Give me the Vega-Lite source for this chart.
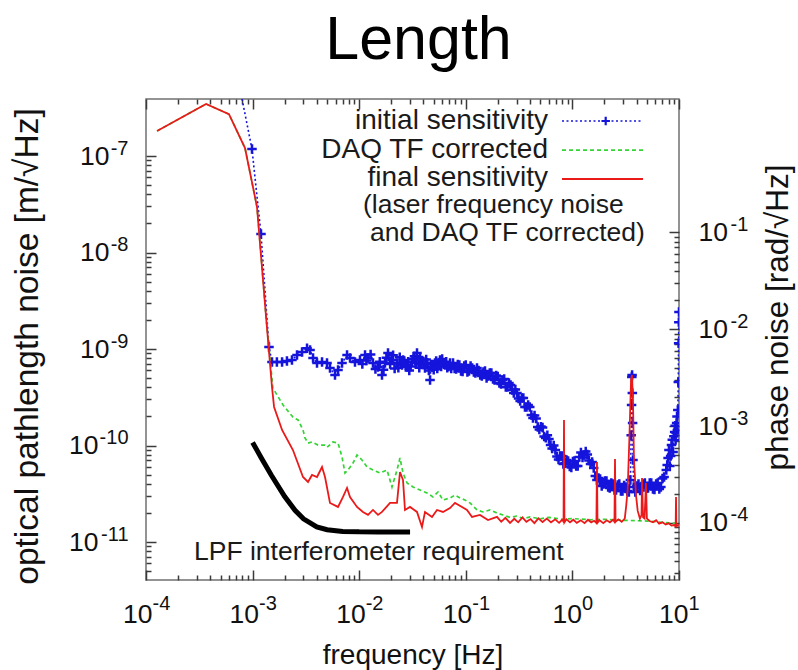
{
  "$schema": "https://vega.github.io/schema/vega-lite/v6.json",
  "width": 533,
  "height": 481,
  "autosize": "none",
  "padding": {"left": 146, "top": 99, "right": 119, "bottom": 90},
  "background": "white",
  "config": {
    "view": {"stroke": "#707070", "strokeWidth": 1.5},
    "font": "Liberation Sans"
  },
  "title": {
    "text": "Length",
    "font": "Liberation Sans",
    "fontSize": 61,
    "fontWeight": "normal",
    "color": "#000000",
    "baseline": "alphabetic",
    "offset": -24,
    "dx": 6
  },
  "datasets": {
    "initial": [
      {"f": 7.96e-4, "v": 3.9e-7}, {"f": 9.87e-4, "v": 1.18e-7},
      {"f": 1.199e-3, "v": 1.555e-8}, {"f": 1.425e-3, "v": 1.05e-9}, {"f": 1.52e-3, "v": 7.33e-10},
      {"f": 1.69e-3, "v": 7.33e-10}, {"f": 1.89e-3, "v": 7.33e-10}, {"f": 2.10e-3, "v": 7.51e-10},
      {"f": 2.34e-3, "v": 7.69e-10}, {"f": 2.61e-3, "v": 8.66e-10}, {"f": 2.91e-3, "v": 9.31e-10},
      {"f": 3.24e-3, "v": 1.02e-9}, {"f": 3.46e-3, "v": 9.76e-10}, {"f": 3.69e-3, "v": 8.06e-10},
      {"f": 4.02e-3, "v": 7.16e-10}, {"f": 4.48e-3, "v": 7.33e-10}, {"f": 4.99e-3, "v": 7.16e-10},
      {"f": 5.32e-3, "v": 6.35e-10}, {"f": 5.93e-3, "v": 5.38e-10}, {"f": 6.33e-3, "v": 6.06e-10},
      {"f": 6.90e-3, "v": 7.16e-10}, {"f": 7.69e-3, "v": 8.66e-10}, {"f": 8.20e-3, "v": 8.06e-10},
      {"f": 9.13e-3, "v": 7.33e-10}, {"f": 1.017e-2, "v": 7.69e-10}, {"f": 1.07e-2, "v": 7.0e-10},
      {"f": 1.134e-2, "v": 8.66e-10}, {"f": 1.17e-2, "v": 7.6e-10}, {"f": 1.209e-2, "v": 8.06e-10},
      {"f": 1.28e-2, "v": 8.8e-10}, {"f": 1.347e-2, "v": 7.16e-10}, {"f": 1.42e-2, "v": 6.2e-10},
      {"f": 1.501e-2, "v": 6.51e-10}, {"f": 1.56e-2, "v": 7.4e-10}, {"f": 1.636e-2, "v": 5.38e-10},
      {"f": 1.69e-2, "v": 6.1e-10}, {"f": 1.746e-2, "v": 7.16e-10}, {"f": 1.80e-2, "v": 8.1e-10},
      {"f": 1.863e-2, "v": 9.09e-10}, {"f": 1.95e-2, "v": 7.0e-10}, {"f": 2.03e-2, "v": 7.69e-10},
      {"f": 2.08e-2, "v": 8.6e-10}, {"f": 2.15e-2, "v": 6.3e-10}, {"f": 2.262e-2, "v": 7.16e-10},
      {"f": 2.33e-2, "v": 6.4e-10}, {"f": 2.4e-2, "v": 8.2e-10}, {"f": 2.46e-2, "v": 7.2e-10},
      {"f": 2.52e-2, "v": 6.82e-10}, {"f": 2.58e-2, "v": 7.7e-10}, {"f": 2.65e-2, "v": 7.5e-10},
      {"f": 2.73e-2, "v": 6.8e-10}, {"f": 2.81e-2, "v": 6.51e-10}, {"f": 2.88e-2, "v": 7.4e-10},
      {"f": 2.95e-2, "v": 6.0e-10}, {"f": 3.04e-2, "v": 6.6e-10}, {"f": 3.13e-2, "v": 7.33e-10},
      {"f": 3.21e-2, "v": 7.9e-10}, {"f": 3.3e-2, "v": 8.4e-10}, {"f": 3.4e-2, "v": 7.2e-10},
      {"f": 3.485e-2, "v": 9.09e-10}, {"f": 3.6e-2, "v": 7.0e-10}, {"f": 3.66e-2, "v": 6.4e-10},
      {"f": 3.72e-2, "v": 8.06e-10}, {"f": 3.81e-2, "v": 7.0e-10}, {"f": 3.9e-2, "v": 7.6e-10},
      {"f": 4.0e-2, "v": 6.9e-10}, {"f": 4.142e-2, "v": 6.35e-10}, {"f": 4.25e-2, "v": 7.8e-10},
      {"f": 4.35e-2, "v": 7.2e-10}, {"f": 4.5e-2, "v": 6.0e-10}, {"f": 4.62e-2, "v": 4.77e-10},
      {"f": 4.73e-2, "v": 6.9e-10}, {"f": 4.85e-2, "v": 6.5e-10}, {"f": 5.0e-2, "v": 6.1e-10},
      {"f": 5.14e-2, "v": 7.16e-10}, {"f": 5.27e-2, "v": 7.5e-10}, {"f": 5.4e-2, "v": 6.3e-10},
      {"f": 5.57e-2, "v": 6.7e-10}, {"f": 5.73e-2, "v": 7.69e-10}, {"f": 5.87e-2, "v": 6.6e-10},
      {"f": 6.0e-2, "v": 7.9e-10}, {"f": 6.18e-2, "v": 7.2e-10}, {"f": 6.38e-2, "v": 6.82e-10},
      {"f": 6.55e-2, "v": 7.4e-10}, {"f": 6.7e-2, "v": 6.4e-10}, {"f": 6.9e-2, "v": 6.6e-10},
      {"f": 7.11e-2, "v": 7.16e-10}, {"f": 7.3e-2, "v": 6.3e-10},
      {"f": 0.0759, "v": 7.16e-10}, {"f": 0.0785, "v": 6.28e-10}, {"f": 0.0813, "v": 6.20e-10},
      {"f": 0.0841, "v": 6.91e-10}, {"f": 0.0871, "v": 6.83e-10}, {"f": 0.0901, "v": 5.92e-10},
      {"f": 0.0933, "v": 5.85e-10}, {"f": 0.0966, "v": 6.66e-10}, {"f": 0.1, "v": 6.83e-10},
      {"f": 0.1035, "v": 5.78e-10}, {"f": 0.1072, "v": 5.92e-10}, {"f": 0.1109, "v": 6.66e-10},
      {"f": 0.1148, "v": 6.35e-10}, {"f": 0.1189, "v": 5.78e-10}, {"f": 0.1230, "v": 5.64e-10},
      {"f": 0.1274, "v": 6.35e-10}, {"f": 0.1318, "v": 5.99e-10}, {"f": 0.1365, "v": 5.38e-10},
      {"f": 0.1413, "v": 5.25e-10}, {"f": 0.1462, "v": 5.78e-10}, {"f": 0.1514, "v": 5.92e-10},
      {"f": 0.1567, "v": 5.01e-10}, {"f": 0.1622, "v": 5.25e-10}, {"f": 0.1679, "v": 5.64e-10},
      {"f": 0.1738, "v": 5.64e-10}, {"f": 0.1799, "v": 4.89e-10}, {"f": 0.1862, "v": 4.77e-10},
      {"f": 0.1928, "v": 5.31e-10}, {"f": 0.1995, "v": 5.19e-10}, {"f": 0.2065, "v": 4.44e-10},
      {"f": 0.2138, "v": 4.34e-10}, {"f": 0.2213, "v": 4.77e-10}, {"f": 0.2291, "v": 4.89e-10},
      {"f": 0.2371, "v": 4.04e-10}, {"f": 0.2455, "v": 4.04e-10}, {"f": 0.2541, "v": 4.44e-10},
      {"f": 0.2630, "v": 4.24e-10}, {"f": 0.2723, "v": 3.76e-10}, {"f": 0.2818, "v": 3.50e-10},
      {"f": 0.2917, "v": 3.80e-10}, {"f": 0.3020, "v": 3.50e-10}, {"f": 0.3126, "v": 3.07e-10},
      {"f": 0.3236, "v": 2.89e-10}, {"f": 0.3350, "v": 3.11e-10}, {"f": 0.3467, "v": 3.11e-10},
      {"f": 0.3589, "v": 2.51e-10}, {"f": 0.3715, "v": 2.51e-10}, {"f": 0.3846, "v": 2.63e-10},
      {"f": 0.3981, "v": 2.51e-10}, {"f": 0.4121, "v": 2.07e-10}, {"f": 0.4266, "v": 1.93e-10},
      {"f": 0.4416, "v": 2.05e-10}, {"f": 0.4571, "v": 1.90e-10}, {"f": 0.4732, "v": 1.555e-10},
      {"f": 0.4898, "v": 1.465e-10}, {"f": 0.5070, "v": 1.57e-10}, {"f": 0.5248, "v": 1.535e-10},
      {"f": 0.5433, "v": 1.24e-10}, {"f": 0.5623, "v": 1.20e-10}, {"f": 0.5821, "v": 1.28e-10},
      {"f": 0.6026, "v": 1.17e-10}, {"f": 0.6237, "v": 1.012e-10}, {"f": 0.6457, "v": 9.31e-11},
      {"f": 0.6683, "v": 1.0e-10}, {"f": 0.6918, "v": 8.98e-11}, {"f": 0.7161, "v": 7.69e-11},
      {"f": 0.7413, "v": 7.17e-11}, {"f": 0.7674, "v": 7.78e-11}, {"f": 0.7943, "v": 7.78e-11},
      {"f": 0.8222, "v": 6.43e-11}, {"f": 0.8511, "v": 6.59e-11}, {"f": 0.8810, "v": 7.08e-11},
      {"f": 0.9120, "v": 6.91e-11}, {"f": 0.9441, "v": 6.06e-11}, {"f": 0.9772, "v": 5.92e-11},
      {"f": 1.0116, "v": 6.83e-11}, {"f": 1.0471, "v": 6.91e-11}, {"f": 1.0839, "v": 6.13e-11},
      {"f": 1.1220, "v": 6.13e-11}, {"f": 1.1614, "v": 7.60e-11}, {"f": 1.2023, "v": 8.46e-11},
      {"f": 1.2445, "v": 7.51e-11}, {"f": 1.2882, "v": 7.97e-11}, {"f": 1.3335, "v": 8.66e-11},
      {"f": 1.3804, "v": 8.06e-11}, {"f": 1.4289, "v": 7.0e-11}, {"f": 1.4791, "v": 6.43e-11},
      {"f": 1.5311, "v": 6.75e-11}, {"f": 1.5849, "v": 5.85e-11}, {"f": 1.6406, "v": 4.83e-11},
      {"f": 1.6982, "v": 4.39e-11}, {"f": 1.7579, "v": 4.60e-11}, {"f": 1.8197, "v": 4.50e-11},
      {"f": 1.8836, "v": 3.81e-11}, {"f": 1.9498, "v": 3.99e-11}, {"f": 2.0184, "v": 4.29e-11},
      {"f": 2.0893, "v": 4.29e-11}, {"f": 2.1627, "v": 3.72e-11}, {"f": 2.2387, "v": 3.63e-11},
      {"f": 2.3174, "v": 4.09e-11}, {"f": 2.3988, "v": 3.99e-11}, {"f": 2.4831, "v": 3.46e-11},
      {"f": 2.5704, "v": 3.46e-11}, {"f": 2.6607, "v": 3.90e-11}, {"f": 2.7542, "v": 3.99e-11},
      {"f": 2.8510, "v": 3.38e-11}, {"f": 2.9512, "v": 3.38e-11}, {"f": 3.0549, "v": 3.85e-11},
      {"f": 3.1623, "v": 3.72e-11}, {"f": 3.2734, "v": 3.38e-11}, {"f": 3.3884, "v": 3.30e-11},
      {"f": 3.50, "v": 4.39e-11}, {"f": 3.56, "v": 1.28e-10}, {"f": 3.59, "v": 2.63e-10},
      {"f": 3.61, "v": 5.13e-10}, {"f": 3.63, "v": 5.38e-10}, {"f": 3.65, "v": 3.50e-10},
      {"f": 3.67, "v": 1.71e-10}, {"f": 3.70, "v": 7.08e-11}, {"f": 3.76, "v": 3.72e-11},
      {"f": 3.8905, "v": 3.30e-11}, {"f": 4.0304, "v": 3.81e-11}, {"f": 4.1687, "v": 3.99e-11},
      {"f": 4.3186, "v": 3.42e-11}, {"f": 4.4668, "v": 3.63e-11}, {"f": 4.6275, "v": 3.99e-11},
      {"f": 4.7863, "v": 4.09e-11}, {"f": 4.9585, "v": 3.63e-11}, {"f": 5.1286, "v": 3.63e-11},
      {"f": 5.3131, "v": 4.09e-11}, {"f": 5.4954, "v": 4.09e-11}, {"f": 5.6931, "v": 3.54e-11},
      {"f": 5.8884, "v": 3.50e-11}, {"f": 6.1003, "v": 3.99e-11}, {"f": 6.3096, "v": 4.09e-11},
      {"f": 6.5366, "v": 3.54e-11}, {"f": 6.7608, "v": 3.72e-11}, {"f": 7.0041, "v": 4.55e-11},
      {"f": 7.2444, "v": 4.72e-11}, {"f": 7.6, "v": 5.57e-11}, {"f": 7.75, "v": 6.3e-11},
      {"f": 7.9, "v": 7.42e-11}, {"f": 8.05, "v": 9.0e-11}, {"f": 8.2, "v": 6.13e-11},
      {"f": 8.35, "v": 7.8e-11}, {"f": 8.5, "v": 1.01e-10}, {"f": 8.65, "v": 1.15e-10},
      {"f": 8.8, "v": 8.56e-11}, {"f": 8.95, "v": 1.25e-10}, {"f": 9.1, "v": 1.38e-10},
      {"f": 9.2, "v": 1.6e-10}, {"f": 9.3, "v": 1.14e-10}, {"f": 9.4, "v": 1.35e-10},
      {"f": 9.5, "v": 1.71e-10}, {"f": 9.58, "v": 2.0e-10}, {"f": 9.65, "v": 1.45e-10},
      {"f": 9.75, "v": 2.33e-10}, {"f": 9.85, "v": 4.55e-10}, {"f": 9.92, "v": 1.15e-9},
      {"f": 9.96, "v": 1.9e-9}, {"f": 9.99, "v": 2.42e-9}
    ],
    "daq": [
      {"f": 1.27e-4, "v": 1.82e-7}, {"f": 3.66e-4, "v": 3.46e-7}, {"f": 6.0e-4, "v": 2.72e-7},
      {"f": 8.49e-4, "v": 1.21e-7}, {"f": 1.10e-3, "v": 2.96e-8}, {"f": 1.34e-3, "v": 2.1e-9},
      {"f": 1.55e-3, "v": 3.94e-10}, {"f": 1.93e-3, "v": 2.63e-10}, {"f": 2.39e-3, "v": 1.97e-10},
      {"f": 2.67e-3, "v": 1.84e-10}, {"f": 2.97e-3, "v": 1.45e-10}, {"f": 3.10e-3, "v": 1.20e-10},
      {"f": 3.31e-3, "v": 1.06e-10}, {"f": 3.61e-3, "v": 1.09e-10}, {"f": 4.11e-3, "v": 1.01e-10},
      {"f": 4.78e-3, "v": 1.01e-10}, {"f": 5.0e-3, "v": 9.6e-11}, {"f": 5.68e-3, "v": 1.09e-10},
      {"f": 6.33e-3, "v": 1.06e-10}, {"f": 6.90e-3, "v": 7.6e-11}, {"f": 7.36e-3, "v": 5.19e-11},
      {"f": 7.85e-3, "v": 5.57e-11}, {"f": 8.75e-3, "v": 6.59e-11}, {"f": 9.54e-3, "v": 7.97e-11},
      {"f": 1.062e-2, "v": 7.08e-11}, {"f": 1.184e-2, "v": 5.99e-11}, {"f": 1.347e-2, "v": 5.57e-11},
      {"f": 1.567e-2, "v": 5.19e-11}, {"f": 1.823e-2, "v": 5.57e-11}, {"f": 2.03e-2, "v": 3.72e-11},
      {"f": 2.262e-2, "v": 5.57e-11}, {"f": 2.413e-2, "v": 7.42e-11}, {"f": 2.576e-2, "v": 5.19e-11},
      {"f": 2.81e-2, "v": 4.09e-11}, {"f": 3.20e-2, "v": 3.72e-11}, {"f": 3.72e-2, "v": 3.46e-11},
      {"f": 4.33e-2, "v": 3.22e-11}, {"f": 4.92e-2, "v": 2.93e-11}, {"f": 5.49e-2, "v": 3.30e-11},
      {"f": 6.11e-2, "v": 2.72e-11}, {"f": 7.11e-2, "v": 2.86e-11}, {"f": 7.92e-2, "v": 3.07e-11},
      {"f": 8.82e-2, "v": 2.86e-11}, {"f": 9.83e-2, "v": 2.72e-11}, {"f": 0.1095, "v": 2.54e-11},
      {"f": 0.1274, "v": 2.15e-11}, {"f": 0.145, "v": 2.05e-11}, {"f": 0.1687, "v": 2.15e-11},
      {"f": 0.1962, "v": 2.0e-11}, {"f": 0.2234, "v": 1.905e-11}, {"f": 0.26, "v": 1.8e-11},
      {"f": 0.3, "v": 1.85e-11}, {"f": 0.35, "v": 1.75e-11}, {"f": 0.4, "v": 1.82e-11},
      {"f": 0.5, "v": 1.74e-11}, {"f": 0.6, "v": 1.8e-11}, {"f": 0.8, "v": 1.72e-11},
      {"f": 1.0, "v": 1.75e-11}, {"f": 1.5, "v": 1.7e-11}, {"f": 2.0, "v": 1.72e-11},
      {"f": 3.0, "v": 1.68e-11}, {"f": 5.0, "v": 1.65e-11}, {"f": 7.0, "v": 1.6e-11},
      {"f": 10, "v": 1.55e-11}
    ],
    "final": [
      {"f": 1.27e-4, "v": 1.82e-7}, {"f": 3.66e-4, "v": 3.46e-7}, {"f": 6.0e-4, "v": 2.72e-7},
      {"f": 8.49e-4, "v": 1.21e-7}, {"f": 1.10e-3, "v": 2.96e-8}, {"f": 1.34e-3, "v": 2.1e-9},
      {"f": 1.52e-3, "v": 4.04e-10}, {"f": 1.59e-3, "v": 2.51e-10}, {"f": 1.89e-3, "v": 1.45e-10},
      {"f": 2.39e-3, "v": 8.98e-11}, {"f": 2.97e-3, "v": 4.72e-11}, {"f": 3.31e-3, "v": 4.19e-11},
      {"f": 3.61e-3, "v": 4.95e-11}, {"f": 4.02e-3, "v": 4.72e-11}, {"f": 4.48e-3, "v": 5.99e-11},
      {"f": 4.78e-3, "v": 4.72e-11}, {"f": 5.32e-3, "v": 2.54e-11}, {"f": 6.33e-3, "v": 2.31e-11},
      {"f": 7.05e-3, "v": 2.93e-11}, {"f": 7.69e-3, "v": 3.63e-11}, {"f": 8.20e-3, "v": 2.93e-11},
      {"f": 9.54e-3, "v": 2.31e-11}, {"f": 1.085e-2, "v": 2.05e-11}, {"f": 1.209e-2, "v": 1.91e-11},
      {"f": 1.347e-2, "v": 2.15e-11}, {"f": 1.501e-2, "v": 1.91e-11}, {"f": 1.636e-2, "v": 2.05e-11},
      {"f": 1.945e-2, "v": 2.54e-11}, {"f": 2.262e-2, "v": 2.54e-11}, {"f": 2.413e-2, "v": 5.31e-11},
      {"f": 2.576e-2, "v": 4.39e-11}, {"f": 2.689e-2, "v": 2.15e-11}, {"f": 2.996e-2, "v": 2.31e-11},
      {"f": 3.485e-2, "v": 2.05e-11}, {"f": 3.883e-2, "v": 1.43e-11}, {"f": 4.142e-2, "v": 2.05e-11},
      {"f": 4.819e-2, "v": 1.82e-11}, {"f": 5.369e-2, "v": 2.15e-11}, {"f": 6.112e-2, "v": 2.05e-11},
      {"f": 7.108e-2, "v": 2.25e-11}, {"f": 7.918e-2, "v": 2.54e-11}, {"f": 9.213e-2, "v": 2.31e-11},
      {"f": 0.1026, "v": 2.15e-11}, {"f": 0.1144, "v": 1.82e-11}, {"f": 0.1359, "v": 1.91e-11},
      {"f": 0.1616, "v": 1.69e-11}, {"f": 0.1962, "v": 1.82e-11}, {"f": 0.215, "v": 1.62e-11},
      {"f": 0.235, "v": 1.78e-11}, {"f": 0.26, "v": 1.58e-11}, {"f": 0.285, "v": 1.74e-11},
      {"f": 0.31, "v": 1.6e-11}, {"f": 0.34, "v": 1.8e-11}, {"f": 0.37, "v": 1.62e-11},
      {"f": 0.405, "v": 1.73e-11}, {"f": 0.44, "v": 1.57e-11}, {"f": 0.48, "v": 1.76e-11},
      {"f": 0.525, "v": 1.61e-11}, {"f": 0.575, "v": 1.75e-11}, {"f": 0.63, "v": 1.6e-11},
      {"f": 0.69, "v": 1.72e-11}, {"f": 0.75, "v": 1.58e-11}, {"f": 0.80, "v": 1.7e-11},
      {"f": 0.826, "v": 1.62e-11}, {"f": 0.834, "v": 1.84e-10}, {"f": 0.842, "v": 1.6e-11},
      {"f": 0.88, "v": 1.72e-11}, {"f": 0.95, "v": 1.6e-11}, {"f": 1.02, "v": 1.7e-11},
      {"f": 1.1, "v": 1.58e-11}, {"f": 1.2, "v": 1.68e-11}, {"f": 1.3, "v": 1.57e-11},
      {"f": 1.4, "v": 1.7e-11}, {"f": 1.5, "v": 1.6e-11}, {"f": 1.6, "v": 1.66e-11},
      {"f": 1.68, "v": 1.58e-11}, {"f": 1.70, "v": 6.75e-11}, {"f": 1.72, "v": 1.58e-11},
      {"f": 1.8, "v": 1.68e-11}, {"f": 1.95, "v": 1.57e-11}, {"f": 2.1, "v": 1.68e-11},
      {"f": 2.25, "v": 1.6e-11}, {"f": 2.4, "v": 1.7e-11}, {"f": 2.48, "v": 1.62e-11},
      {"f": 2.51, "v": 7.25e-11}, {"f": 2.54, "v": 1.62e-11}, {"f": 2.7, "v": 1.72e-11},
      {"f": 2.9, "v": 1.62e-11}, {"f": 3.1, "v": 1.75e-11}, {"f": 3.2, "v": 2.4e-11},
      {"f": 3.3, "v": 3.5e-11}, {"f": 3.42, "v": 1.14e-10}, {"f": 3.55, "v": 4.77e-10},
      {"f": 3.62, "v": 5.38e-10}, {"f": 3.70, "v": 2.96e-10}, {"f": 3.78, "v": 7.08e-11},
      {"f": 3.95, "v": 3.07e-11}, {"f": 4.1, "v": 2.1e-11}, {"f": 4.3, "v": 1.75e-11},
      {"f": 4.45, "v": 1.9e-11}, {"f": 4.5, "v": 4.6e-11}, {"f": 4.6, "v": 1.8e-11},
      {"f": 4.75, "v": 1.75e-11}, {"f": 4.9, "v": 4.09e-11}, {"f": 5.0, "v": 1.75e-11},
      {"f": 5.3, "v": 1.65e-11}, {"f": 5.7, "v": 1.6e-11}, {"f": 6.1, "v": 1.68e-11},
      {"f": 6.5, "v": 1.55e-11}, {"f": 7.0, "v": 1.6e-11}, {"f": 7.5, "v": 1.52e-11},
      {"f": 8.0, "v": 1.56e-11}, {"f": 8.5, "v": 1.48e-11}, {"f": 9.0, "v": 1.5e-11},
      {"f": 9.3, "v": 1.45e-11}, {"f": 9.38, "v": 2.93e-11}, {"f": 9.45, "v": 1.45e-11},
      {"f": 9.8, "v": 1.5e-11}, {"f": 10, "v": 1.48e-11}
    ],
    "requirement": [
      {"f": 1.0e-3, "v": 1.076e-10}, {"f": 1.2e-3, "v": 7.53e-11}, {"f": 1.5e-3, "v": 4.91e-11},
      {"f": 2.0e-3, "v": 2.96e-11}, {"f": 2.5e-3, "v": 2.13e-11}, {"f": 3.0e-3, "v": 1.74e-11},
      {"f": 4.0e-3, "v": 1.435e-11}, {"f": 5.0e-3, "v": 1.34e-11}, {"f": 7.0e-3, "v": 1.289e-11},
      {"f": 1.0e-2, "v": 1.274e-11}, {"f": 1.5e-2, "v": 1.27e-11}, {"f": 2.0e-2, "v": 1.27e-11},
      {"f": 3.0e-2, "v": 1.27e-11}
    ],
    "keyInitial": [{"f": 0.799, "v": 2.306e-7}, {"f": 4.596, "v": 2.306e-7}],
    "keyInitialMark": [{"f": 2.053, "v": 2.306e-7}],
    "keyDaq": [{"f": 0.799, "v": 1.154e-7}, {"f": 4.596, "v": 1.154e-7}],
    "keyFinal": [{"f": 0.799, "v": 5.78e-8}, {"f": 4.596, "v": 5.78e-8}],
    "keyLabels": [
      {"f": 0.5904, "v": 2.306e-7, "t": "initial sensitivity"},
      {"f": 0.5904, "v": 1.154e-7, "t": "DAQ TF corrected"},
      {"f": 0.5904, "v": 5.92e-8, "t": "final sensitivity"}
    ],
    "keyNote": [
      {"f": 1.085e-2, "v": 3.107e-8, "t": "(laser frequency noise"},
      {"f": 1.262e-2, "v": 1.592e-8, "t": "and DAQ TF corrected)"}
    ],
    "reqLabel": [{"f": 2.82e-4, "v": 7.87e-12, "t": "LPF interferometer requirement"}],
    "lengthFrame": [{"f": 1e-4, "v": 4.04e-12}, {"f": 10, "v": 3.9e-7}],
    "phaseFrame": [{"f": 1e-4, "p": 2.57e-5}, {"f": 10, "p": 2.39}]
  },
  "layer": [
    {
      "encoding": {
        "x": {
          "field": "f",
          "type": "quantitative",
          "scale": {"type": "log", "domain": [1e-4, 10], "nice": false},
          "axis": {
            "orient": "bottom",
            "values": [0.0001, 0.0002, 0.0003, 0.0004, 0.0005, 0.0006, 0.0007, 0.0008, 0.0009,
                       0.001, 0.002, 0.003, 0.004, 0.005, 0.006, 0.007, 0.008, 0.009,
                       0.01, 0.02, 0.03, 0.04, 0.05, 0.06, 0.07, 0.08, 0.09,
                       0.1, 0.2, 0.3, 0.4, 0.5, 0.6, 0.7, 0.8, 0.9,
                       1, 2, 3, 4, 5, 6, 7, 8, 9, 10],
            "labelExpr": "abs(datum.value / pow(10, round(log(datum.value) / LN10)) - 1) > 1e-6 ? '' : '10'",
            "domain": false,
            "grid": false,
            "tickSize": {"condition": {"test": "abs(datum.value / pow(10, round(log(datum.value) / LN10)) - 1) < 1e-6", "value": -10}, "value": -5},
            "tickColor": "#3a3a3a",
            "tickWidth": 1.5,
            "labelFont": "Liberation Sans",
            "labelFontSize": 26.5,
            "labelColor": "#111111",
            "labelAlign": "right",
            "labelBaseline": "top",
            "labelOffset": {"condition": {"test": "datum.value >= 0.5", "value": 9}, "value": 6},
            "labelPadding": 31,
            "labelOverlap": false,
            "labelFlush": false,
            "labelBound": false,
            "title": "frequency [Hz]",
            "titleFont": "Liberation Sans",
            "titleFontSize": 28,
            "titleFontWeight": "normal",
            "titleColor": "#111111",
            "titlePadding": 9
          }
        },
        "y": {
          "field": "v",
          "type": "quantitative",
          "scale": {"type": "log", "domain": [4.04e-12, 3.9e-7], "nice": false},
          "axis": {
            "orient": "left",
            "values": [5e-12, 6e-12, 7e-12, 8e-12, 9e-12,
                       1e-11, 2e-11, 3e-11, 4e-11, 5e-11, 6e-11, 7e-11, 8e-11, 9e-11,
                       1e-10, 2e-10, 3e-10, 4e-10, 5e-10, 6e-10, 7e-10, 8e-10, 9e-10,
                       1e-9, 2e-9, 3e-9, 4e-9, 5e-9, 6e-9, 7e-9, 8e-9, 9e-9,
                       1e-8, 2e-8, 3e-8, 4e-8, 5e-8, 6e-8, 7e-8, 8e-8, 9e-8, 1e-7],
            "labelExpr": "abs(datum.value / pow(10, round(log(datum.value) / LN10)) - 1) > 1e-6 ? '' : '10'",
            "domain": false,
            "grid": false,
            "tickSize": {"condition": {"test": "abs(datum.value / pow(10, round(log(datum.value) / LN10)) - 1) < 1e-6", "value": -10}, "value": -5},
            "tickColor": "#3a3a3a",
            "tickWidth": 1.5,
            "labelFont": "Liberation Sans",
            "labelFontSize": 26.5,
            "labelColor": "#111111",
            "labelAlign": "right",
            "labelBaseline": "middle",
            "labelPadding": {"condition": {"test": "datum.value < 5e-10", "value": 58}, "value": 47},
            "labelOverlap": false,
            "labelFlush": false,
            "labelBound": false,
            "title": "optical pathlength noise [m/√Hz]",
            "titleFont": "Liberation Sans",
            "titleFontSize": 33.5,
            "titleFontWeight": "normal",
            "titleColor": "#111111",
            "titlePadding": 24,
            "titleY": 247
          }
        }
      },
      "layer": [
        {
          "data": {"name": "initial"},
          "mark": {"type": "line", "stroke": "#1414dc", "strokeWidth": 1.6, "strokeDash": [2, 2.5], "clip": true}
        },
        {
          "data": {"name": "initial"},
          "transform": [{"filter": "datum.v < 3.8e-7"}],
          "mark": {"type": "point", "shape": "M-1,0L1,0M0,-1L0,1", "filled": false, "stroke": "#1414dc", "strokeWidth": 2.5, "size": 90, "opacity": 1, "clip": true}
        },
        {
          "data": {"name": "daq"},
          "mark": {"type": "line", "stroke": "#33d433", "strokeWidth": 1.7, "strokeDash": [4, 3], "clip": true}
        },
        {
          "data": {"name": "final"},
          "mark": {"type": "line", "stroke": "#ea1a1a", "strokeWidth": 1.8, "clip": true}
        },
        {
          "data": {"name": "requirement"},
          "mark": {"type": "line", "stroke": "#000000", "strokeWidth": 5, "clip": true}
        },
        {
          "data": {"name": "keyInitial"},
          "mark": {"type": "line", "stroke": "#1414dc", "strokeWidth": 1.6, "strokeDash": [2, 2.5]}
        },
        {
          "data": {"name": "keyInitialMark"},
          "mark": {"type": "point", "shape": "M-1,0L1,0M0,-1L0,1", "filled": false, "stroke": "#1414dc", "strokeWidth": 2.2, "size": 72, "opacity": 1}
        },
        {
          "data": {"name": "keyDaq"},
          "mark": {"type": "line", "stroke": "#33d433", "strokeWidth": 1.7, "strokeDash": [4, 3]}
        },
        {
          "data": {"name": "keyFinal"},
          "mark": {"type": "line", "stroke": "#ea1a1a", "strokeWidth": 1.8}
        },
        {
          "data": {"name": "keyLabels"},
          "mark": {"type": "text", "align": "right", "baseline": "middle", "font": "Liberation Sans", "fontSize": 28, "color": "#1a1a1a"},
          "encoding": {"text": {"field": "t"}}
        },
        {
          "data": {"name": "keyNote"},
          "mark": {"type": "text", "align": "left", "baseline": "middle", "font": "Liberation Sans", "fontSize": 26.5, "color": "#1a1a1a"},
          "encoding": {"text": {"field": "t"}}
        },
        {
          "data": {"name": "reqLabel"},
          "mark": {"type": "text", "align": "left", "baseline": "middle", "font": "Liberation Sans", "fontSize": 26.5, "color": "#1a1a1a"},
          "encoding": {"text": {"field": "t"}}
        }
      ]
    },
    {
      "data": {"name": "phaseFrame"},
      "mark": {"type": "point", "opacity": 0},
      "encoding": {
        "x": {
          "field": "f",
          "type": "quantitative",
          "scale": {"type": "log", "domain": [1e-4, 10], "nice": false},
          "axis": {
            "orient": "top",
            "values": [0.0001, 0.0002, 0.0003, 0.0004, 0.0005, 0.0006, 0.0007, 0.0008, 0.0009,
                       0.001, 0.002, 0.003, 0.004, 0.005, 0.006, 0.007, 0.008, 0.009,
                       0.01, 0.02, 0.03, 0.04, 0.05, 0.06, 0.07, 0.08, 0.09,
                       0.1, 0.2, 0.3, 0.4, 0.5, 0.6, 0.7, 0.8, 0.9,
                       1, 2, 3, 4, 5, 6, 7, 8, 9, 10],
            "labels": false,
            "domain": false,
            "grid": false,
            "tickSize": {"condition": {"test": "abs(datum.value / pow(10, round(log(datum.value) / LN10)) - 1) < 1e-6", "value": -10}, "value": -5},
            "tickColor": "#3a3a3a",
            "tickWidth": 1.5,
            "title": null
          }
        },
        "y": {
          "field": "p",
          "type": "quantitative",
          "scale": {"type": "log", "domain": [2.57e-5, 2.39], "nice": false},
          "axis": {
            "orient": "right",
            "values": [3e-5, 4e-5, 5e-5, 6e-5, 7e-5, 8e-5, 9e-5,
                       1e-4, 2e-4, 3e-4, 4e-4, 5e-4, 6e-4, 7e-4, 8e-4, 9e-4,
                       1e-3, 2e-3, 3e-3, 4e-3, 5e-3, 6e-3, 7e-3, 8e-3, 9e-3,
                       1e-2, 2e-2, 3e-2, 4e-2, 5e-2, 6e-2, 7e-2, 8e-2, 9e-2, 1e-1],
            "labelExpr": "abs(datum.value / pow(10, round(log(datum.value) / LN10)) - 1) > 1e-6 ? '' : '10'",
            "domain": false,
            "grid": false,
            "tickSize": {"condition": {"test": "abs(datum.value / pow(10, round(log(datum.value) / LN10)) - 1) < 1e-6", "value": -10}, "value": -5},
            "tickColor": "#3a3a3a",
            "tickWidth": 1.5,
            "labelFont": "Liberation Sans",
            "labelFontSize": 26.5,
            "labelColor": "#111111",
            "labelAlign": "left",
            "labelBaseline": "middle",
            "labelPadding": 29,
            "labelOverlap": false,
            "labelFlush": false,
            "labelBound": false,
            "title": "phase noise [rad/√Hz]",
            "titleAngle": 270,
            "titleFont": "Liberation Sans",
            "titleFontSize": 31.5,
            "titleFontWeight": "normal",
            "titleColor": "#111111",
            "titlePadding": 67,
            "titleY": 218
          }
        }
      }
    },
    {
      "data": {"name": "lengthFrame"},
      "mark": {"type": "point", "opacity": 0},
      "encoding": {
        "x": {
          "field": "f",
          "type": "quantitative",
          "scale": {"type": "log", "domain": [1e-4, 10], "nice": false},
          "axis": {
            "orient": "bottom",
            "values": [0.0001, 0.001, 0.01, 0.1, 1, 10],
            "labelExpr": "'' + round(log(datum.value) / LN10)",
            "domain": false,
            "grid": false,
            "ticks": true,
            "tickSize": -10,
            "tickOpacity": 0,
            "labelFont": "Liberation Sans",
            "labelFontSize": 20,
            "labelColor": "#111111",
            "labelAlign": "left",
            "labelBaseline": "top",
            "labelOffset": {"condition": {"test": "datum.value >= 0.5", "value": 9}, "value": 6},
            "labelPadding": 23.5,
            "labelOverlap": false,
            "labelFlush": false,
            "labelBound": false,
            "title": null
          }
        },
        "y": {
          "field": "v",
          "type": "quantitative",
          "scale": {"type": "log", "domain": [4.04e-12, 3.9e-7], "nice": false},
          "axis": {
            "orient": "left",
            "values": [1e-11, 1e-10, 1e-9, 1e-8, 1e-7],
            "labelExpr": "'' + round(log(datum.value) / LN10)",
            "domain": false,
            "grid": false,
            "ticks": true,
            "tickSize": -10,
            "tickOpacity": 0,
            "labelFont": "Liberation Sans",
            "labelFontSize": 20,
            "labelColor": "#111111",
            "labelAlign": "right",
            "labelBaseline": "middle",
            "labelOffset": -8,
            "labelPadding": 28,
            "labelOverlap": false,
            "labelFlush": false,
            "labelBound": false,
            "title": null
          }
        }
      }
    },
    {
      "data": {"name": "phaseFrame"},
      "mark": {"type": "point", "opacity": 0},
      "encoding": {
        "x": {
          "field": "f",
          "type": "quantitative",
          "scale": {"type": "log", "domain": [1e-4, 10], "nice": false},
          "axis": null
        },
        "y": {
          "field": "p",
          "type": "quantitative",
          "scale": {"type": "log", "domain": [2.57e-5, 2.39], "nice": false},
          "axis": {
            "orient": "right",
            "values": [1e-4, 1e-3, 1e-2, 1e-1],
            "labelExpr": "'' + round(log(datum.value) / LN10)",
            "domain": false,
            "grid": false,
            "ticks": true,
            "tickSize": -10,
            "tickOpacity": 0,
            "labelFont": "Liberation Sans",
            "labelFontSize": 20,
            "labelColor": "#111111",
            "labelAlign": "left",
            "labelBaseline": "middle",
            "labelOffset": -8,
            "labelPadding": 61,
            "labelOverlap": false,
            "labelFlush": false,
            "labelBound": false,
            "title": null
          }
        }
      }
    }
  ],
  "resolve": {
    "scale": {"y": "independent"},
    "axis": {"x": "independent", "y": "independent"}
  }
}
